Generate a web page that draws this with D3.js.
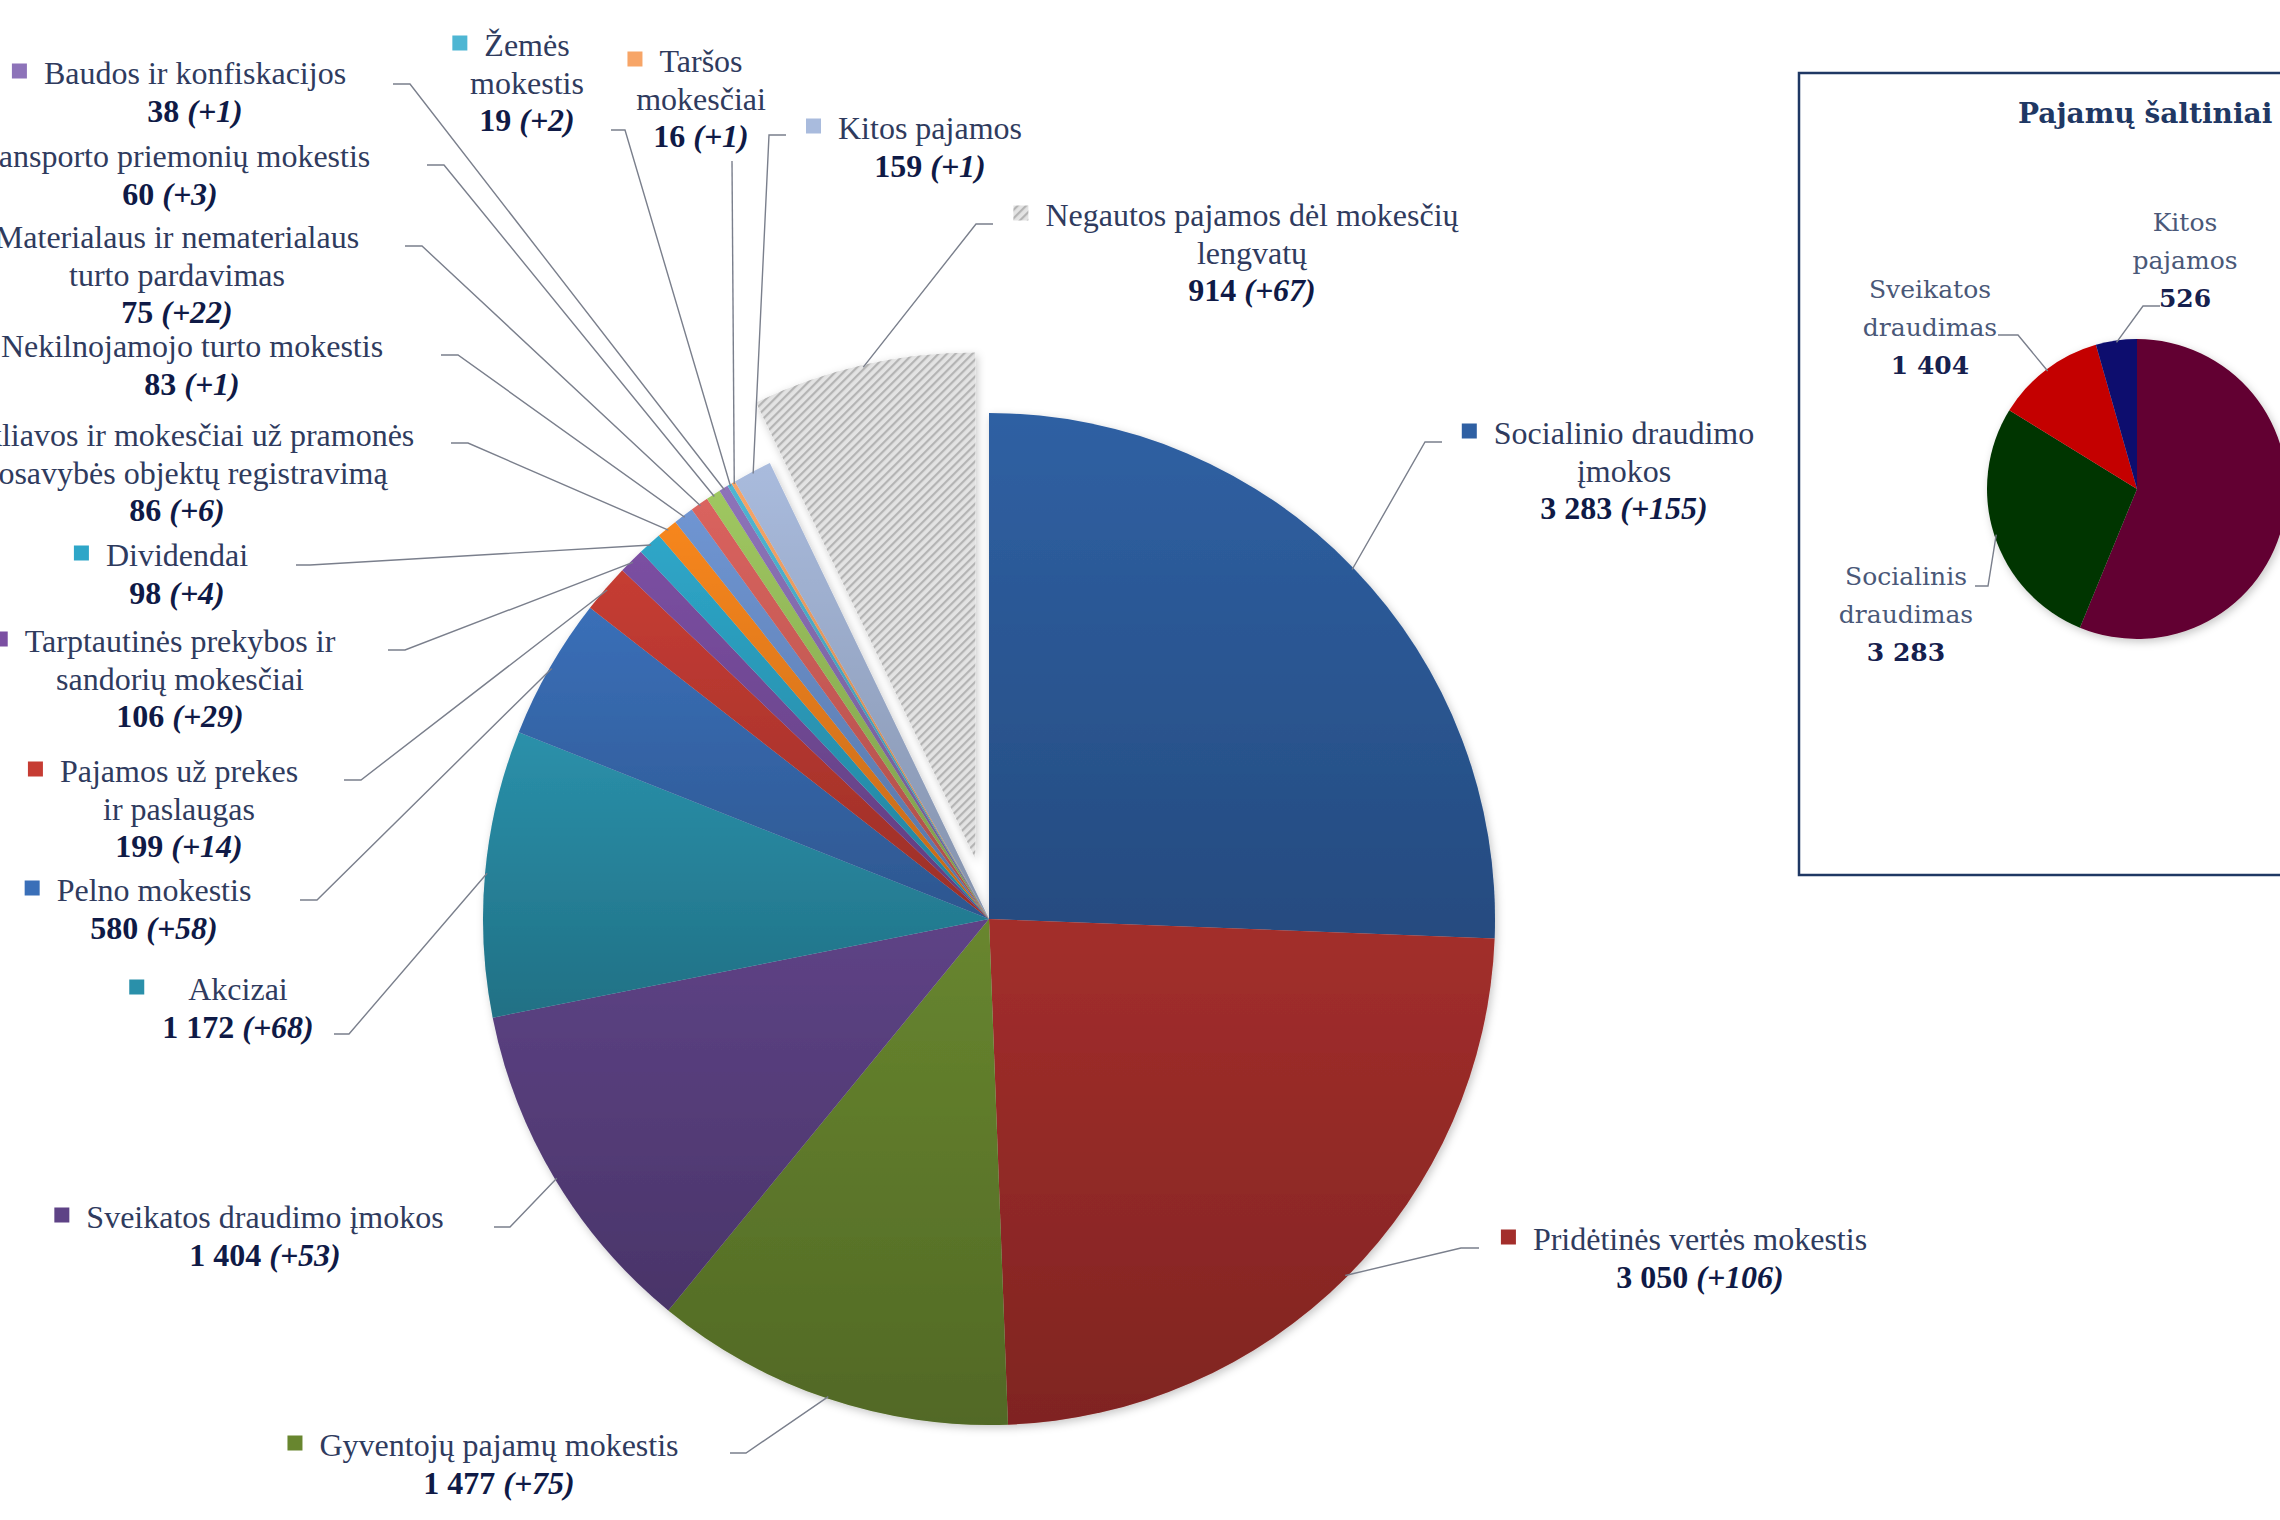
<!DOCTYPE html>
<html>
<head>
<meta charset="utf-8">
<script src="https://cdn.jsdelivr.net/npm/d3@7"></script>
<style>
  body { margin: 0; background: #ffffff; }
  .name { font-family: "Liberation Serif", serif; font-size: 32px; fill: #2f3b5e; }
  .val { font-family: "Liberation Serif", serif; font-size: 32px; font-weight: bold; fill: #0f1a46; }
  .src-name { font-family: "DejaVu Serif", serif; font-size: 25px; fill: #4a5878; }
  .src-val { font-family: "DejaVu Serif", serif; font-size: 25px; font-weight: bold; fill: #16204e; }
  .src-title { font-family: "DejaVu Serif", serif; font-size: 28px; font-weight: bold; fill: #1f3864; }
  .leader { fill: none; stroke: #7a7f8c; stroke-width: 1.4px; }
</style>
</head>
<body>
<div id="chart"></div>
<script>
// main pie: revenue items, clockwise from 12 o'clock ("\n" = label line break)
const mainCategories = [
  "Socialinio draudimo\nįmokos",
  "Pridėtinės vertės mokestis",
  "Gyventojų pajamų mokestis",
  "Sveikatos draudimo įmokos",
  "Akcizai",
  "Pelno mokestis",
  "Pajamos už prekes\nir paslaugas",
  "Tarptautinės prekybos ir\nsandorių mokesčiai",
  "Dividendai",
  "Rinkliavos ir mokesčiai už pramonės\nnuosavybės objektų registravimą",
  "Nekilnojamojo turto mokestis",
  "Materialaus ir nematerialaus\nturto pardavimas",
  "Transporto priemonių mokestis",
  "Baudos ir konfiskacijos",
  "Žemės\nmokestis",
  "Taršos\nmokesčiai",
  "Kitos pajamos",
  "Negautos pajamos dėl mokesčių\nlengvatų"
];
const mainValues = [3283, 3050, 1477, 1404, 1172, 580, 199, 106, 98, 86, 83, 75, 60, 38, 19, 16, 159, 914];
const mainChanges = [155, 106, 75, 53, 68, 58, 14, 29, 4, 6, 1, 22, 3, 1, 2, 1, 1, 67];

// inset pie: revenue sources (first slice label is outside the picture)
const sourceCategories = ["", "Socialinis\ndraudimas", "Sveikatos\ndraudimas", "Kitos\npajamos"];
const sourceValues = [6692, 3283, 1404, 526];

// styles
const mainColors = ["#2f60a3", "#a32e2b", "#68862f", "#5e4386", "#2a90aa", "#3a6fb8", "#c63c33", "#7b4fa2",
  "#2ea6c8", "#f7861f", "#6f95d2", "#da635e", "#9fc760", "#8d73b9", "#4eb6d3", "#f7a567", "#a9bbdd", "url(#hatch)"];
const sourceColors = ["#620030", "#033503", "#c40000", "#0b0b6e"];

// label placement (text centre, first line y, leader stub [outer x, elbow x, y])
const mainLayout = [
  {cx: 1624, y: 433, stub: [1442, 1425, 442]},
  {cx: 1700, y: 1239, stub: [1479, 1461, 1248]},
  {cx: 499, y: 1445, stub: [730, 746, 1453]},
  {cx: 265, y: 1217, stub: [494, 510, 1227]},
  {cx: 238, y: 989, stub: [334, 349, 1034], keyGap: 44},
  {cx: 154, y: 890, stub: [300, 317, 900]},
  {cx: 179, y: 771, stub: [344, 361, 780]},
  {cx: 180, y: 641, stub: [388, 405, 650]},
  {cx: 177, y: 555, stub: [296, 310, 565]},
  {cx: 177, y: 435, stub: [451, 468, 443]},
  {cx: 192, y: 346, stub: [441, 458, 355]},
  {cx: 177, y: 237, stub: [405, 422, 246]},
  {cx: 170, y: 156, stub: [427, 444, 165]},
  {cx: 195, y: 73, stub: [393, 410, 84]},
  {cx: 527, y: 45, stub: [611, 625, 130]},
  {cx: 701, y: 61, stub: [732, 732, 161]},
  {cx: 930, y: 128, stub: [786, 769, 135]},
  {cx: 1252, y: 215, stub: [993, 976, 224]}
];
const sourceLayout = [
  null,
  {cx: 1906, y: 576, stub: [1975, 1988, 586]},
  {cx: 1930, y: 289, stub: [1998, 2018, 335]},
  {cx: 2185, y: 222, stub: [2160, 2143, 306]}
];

const fmt = d3.formatLocale({decimal: ",", thousands: " ", grouping: [3], currency: ["", ""]}).format(",d");

class PieChart {

    constructor(_config, _data) {
        this.config = {
            svg: _config.svg,
            cx: _config.cx,
            cy: _config.cy,
            radius: _config.radius,
            explode: _config.explode || [],
            layout: _config.layout,
            lineHeight: _config.lineHeight || 37.5,
            nameClass: _config.nameClass,
            valueClass: _config.valueClass,
            showKey: _config.showKey,
            shade: _config.shade,
            keySize: 15,
            keyGap: 17
        }
        this.data = _data;
        this.initVis();
    }

    initVis() {
        let vis = this;
        vis.pieG = vis.config.svg.append('g')
            .attr('transform', `translate(${vis.config.cx},${vis.config.cy})`)
            .attr('filter', 'url(#shadow)');
        vis.labelG = vis.config.svg.append('g');
        vis.renderVis();
    }

    renderVis() {
        let vis = this;
        const r = vis.config.radius;
        const lh = vis.config.lineHeight;

        const pie = d3.pie().sort(null).value(d => d.value);
        const arc = d3.arc().innerRadius(0).outerRadius(r);
        vis.arcs = pie(vis.data);
        vis.arcs.forEach(a => {
            a.mid = (a.startAngle + a.endAngle) / 2;
            a.off = vis.config.explode[a.index] || 0;
        });

        const slices = vis.pieG.selectAll('.slice')
            .data(vis.arcs)
            .join('g')
            .attr('class', 'slice')
            .attr('transform', d => `translate(${d.off * Math.sin(d.mid)},${-d.off * Math.cos(d.mid)})`);

        slices.append('path')
            .attr('d', arc)
            .attr('fill', d => d.data.color);

        // darker towards the bottom of each slice
        if (vis.config.shade) {
            slices.filter(d => !d.data.color.startsWith('url'))
                .append('path')
                .attr('d', arc)
                .attr('fill', 'url(#shade)');
        }

        const labelled = vis.arcs.filter(d => vis.config.layout[d.index]);

        // leader lines
        vis.labelG.selectAll('.leader')
            .data(labelled)
            .join('path')
            .attr('class', 'leader')
            .attr('d', d => {
                const s = vis.config.layout[d.index].stub;
                const rr = r + d.off - 2;
                const ex = vis.config.cx + rr * Math.sin(d.mid);
                const ey = vis.config.cy - rr * Math.cos(d.mid);
                return `M${s[0]},${s[2]}L${s[1]},${s[2]}L${ex},${ey}`;
            });

        // labels: text centred, legend key to the left of the first line
        const labels = vis.labelG.selectAll('.label')
            .data(labelled)
            .join('g')
            .attr('class', 'label');

        labels.each(function(d) {
            const g = d3.select(this);
            const L = vis.config.layout[d.index];
            const lines = d.data.category.split('\n');

            lines.forEach((t, j) => {
                const txt = g.append('text')
                    .attr('class', vis.config.nameClass)
                    .attr('x', L.cx)
                    .attr('y', L.y + j * lh)
                    .attr('dy', '0.35em')
                    .attr('text-anchor', 'middle')
                    .text(t);

                if (j === 0 && vis.config.showKey) {
                    const w = txt.node().getComputedTextLength();
                    const gap = L.keyGap || vis.config.keyGap;
                    const ks = vis.config.keySize;
                    g.append('rect')
                        .attr('x', L.cx - w / 2 - gap - ks)
                        .attr('y', L.y - ks / 2 - 2)
                        .attr('width', ks)
                        .attr('height', ks)
                        .attr('fill', d.data.color);
                }
            });

            const v = g.append('text')
                .attr('class', vis.config.valueClass)
                .attr('x', L.cx)
                .attr('y', L.y + lines.length * lh)
                .attr('dy', '0.35em')
                .attr('text-anchor', 'middle');
            v.append('tspan').text(fmt(d.data.value));
            if (d.data.change != null) {
                v.append('tspan').text(' ');
                v.append('tspan').attr('font-style', 'italic').text(`(+${d.data.change})`);
            }
        });
    }
}

const svg = d3.select('#chart').append('svg')
    .attr('width', 2280)
    .attr('height', 1520);

const defs = svg.append('defs');

const hatch = defs.append('pattern')
    .attr('id', 'hatch')
    .attr('patternUnits', 'userSpaceOnUse')
    .attr('width', 6)
    .attr('height', 6)
    .attr('patternTransform', 'rotate(45)');
hatch.append('rect').attr('width', 6).attr('height', 6).attr('fill', '#e3e3e3');
hatch.append('line').attr('x1', 1).attr('y1', 0).attr('x2', 1).attr('y2', 6)
    .attr('stroke', '#b4b4b4').attr('stroke-width', 2.4);

const shade = defs.append('linearGradient')
    .attr('id', 'shade')
    .attr('x1', 0).attr('y1', 0).attr('x2', 0).attr('y2', 1);
shade.append('stop').attr('offset', '0%').attr('stop-color', '#000').attr('stop-opacity', 0);
shade.append('stop').attr('offset', '100%').attr('stop-color', '#000').attr('stop-opacity', 0.22);

defs.append('filter')
    .attr('id', 'shadow')
    .attr('x', '-10%').attr('y', '-10%').attr('width', '120%').attr('height', '120%')
    .append('feDropShadow')
    .attr('dx', 2).attr('dy', 3).attr('stdDeviation', 4)
    .attr('flood-color', '#000').attr('flood-opacity', 0.22);

const mainData = mainCategories.map((c, i) => ({
    category: c, value: mainValues[i], change: mainChanges[i], color: mainColors[i]
}));

const mainExplode = [];
mainExplode[mainValues.length - 1] = 62;

new PieChart({
    svg: svg, cx: 989, cy: 919, radius: 506,
    explode: mainExplode,
    layout: mainLayout,
    nameClass: 'name', valueClass: 'val',
    showKey: true, shade: true
}, mainData);

// inset box
svg.append('rect')
    .attr('x', 1799).attr('y', 73)
    .attr('width', 540).attr('height', 802)
    .attr('fill', '#ffffff')
    .attr('stroke', '#1f3864')
    .attr('stroke-width', 2.5);

svg.append('text')
    .attr('class', 'src-title')
    .attr('x', 2018).attr('y', 113)
    .attr('dy', '0.35em')
    .text('Pajamų šaltiniai');

const sourceData = sourceCategories.map((c, i) => ({
    category: c, value: sourceValues[i], change: null, color: sourceColors[i]
}));

new PieChart({
    svg: svg, cx: 2137, cy: 489, radius: 150,
    layout: sourceLayout,
    lineHeight: 38,
    nameClass: 'src-name', valueClass: 'src-val',
    showKey: false, shade: false
}, sourceData);
</script>
</body>
</html>
